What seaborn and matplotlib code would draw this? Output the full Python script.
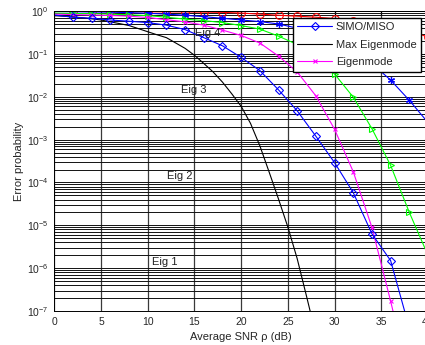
import numpy as np
import pandas as pd
import matplotlib
matplotlib.use("Agg")
import matplotlib.pyplot as plt
import seaborn as sns

# SNR grid (dB)
snr = [0, 2, 4, 6, 8, 10, 12, 14, 16, 18, 20, 22, 24, 26, 28, 30, 32, 34, 36, 38, 40]
snr_fine = list(range(0, 29))

# Error probability per scheme
simo_miso = [0.81, 0.72, 0.68, 0.62, 0.58, 0.54, 0.47, 0.37, 0.24, 0.155, 0.083,
             0.041, 0.0145, 0.0047, 1.2e-3, 2.9e-4, 5.8e-5, 6.3e-6, 1.5e-6, 4e-8]
max_eigen = [0.78, 0.76, 0.73, 0.70, 0.66, 0.62, 0.56, 0.51, 0.46, 0.39, 0.33,
             0.28, 0.24, 0.18, 0.135, 0.093, 0.060, 0.038, 0.022, 0.0117, 6.0e-3,
             2.4e-3, 7.2e-4, 1.74e-4, 4.1e-5, 9.1e-6, 1.66e-6, 2.2e-7, 2.8e-8]
eigenmode = [0.85, 0.83, 0.81, 0.79, 0.76, 0.71, 0.63, 0.56, 0.47, 0.36, 0.27,
             0.18, 0.089, 0.038, 0.0105, 1.74e-3, 1.78e-4, 8.9e-6, 1.7e-7, 2.5e-9]
eig_green = [0.90, 0.88, 0.87, 0.85, 0.82, 0.785, 0.72, 0.65, 0.60, 0.54, 0.46,
             0.38, 0.26, 0.166, 0.083, 0.034, 9.8e-3, 1.8e-3, 2.5e-4, 2.0e-5, 2.0e-6]
eig_star = [0.98, 0.965, 0.955, 0.945, 0.92, 0.89, 0.85, 0.80, 0.74, 0.68, 0.62,
            0.57, 0.50, 0.40, 0.30, 0.20, 0.117, 0.060, 0.0245, 8.3e-3, 2.5e-3]
eig_red = [0.99, 0.985, 0.98, 0.975, 0.97, 0.965, 0.96, 0.955, 0.945, 0.935, 0.90,
           0.85, 0.80, 0.76, 0.72, 0.67, 0.60, 0.52, 0.43, 0.34, 0.25]

legend_labels = ["SIMO/MISO", "Max Eigenmode", "Eigenmode"]
eig_labels = ["Eig 1", "Eig 2", "Eig 3", "Eig 4"]
eig_label_pos = [(10.5, 1.4e-6), (12.05, 1.4e-4), (13.6, 1.45e-2), (15.1, 0.31)]

sns.set_style("white")
plt.rcParams["font.family"] = ["Liberation Sans", "DejaVu Sans"]
plt.rcParams["mathtext.fontset"] = "custom"
plt.rcParams["mathtext.rm"] = "Liberation Sans"
plt.rcParams["mathtext.it"] = "Liberation Sans:italic"

W, H = 425, 345
fig = plt.figure(figsize=(W / 100, H / 100), dpi=100)
ax = fig.add_axes([54.3 / W, 1 - 311 / H, (428 - 54.3) / W, (311 - 11.1) / H])
ax.set_yscale("log")

lw = 0.8
ms = 4.5
common = dict(ax=ax, lw=lw, markevery=(1, 1), sort=False, estimator=None)

sns.lineplot(x=snr, y=eig_red, color="#ff0000", marker="o", ms=ms + 1,
             mfc="none", mec="#ff0000", mew=0.8, **common)
sns.lineplot(x=snr, y=eig_star, color="#0000ff", marker=(6, 2, 0), ms=ms + 0.5,
             mec="#0000ff", mew=0.9, **common)
sns.lineplot(x=snr, y=eig_green, color="#00ff00", marker=">", ms=ms + 0.5,
             mfc="none", mec="#00ff00", mew=0.8, **common)
sns.lineplot(x=snr[:len(eigenmode)], y=eigenmode, color="#ff00ff", marker="x",
             ms=ms - 1, mec="#ff00ff", mew=0.8, **common)
sns.lineplot(x=snr_fine, y=max_eigen, color="black", lw=lw, ax=ax, sort=False,
             estimator=None)
sns.lineplot(x=snr[:len(simo_miso)], y=simo_miso, color="#0000ff", marker="D",
             ms=ms, mfc="none", mec="#0000ff", mew=0.8, **common)

ax.set_xlim(0, 40)
ax.set_ylim(1e-7, 1)
ax.set_xticks(range(0, 45, 5))
ax.set_yticks([10.0 ** k for k in range(-7, 1)])

ax.grid(True, which="major", axis="x", color="#3a3a3a", lw=0.9, ls="-")
ax.grid(True, which="both", axis="y", color="#111111", lw=0.7, ls="-")
ax.set_axisbelow(True)

ax.tick_params(which="both", direction="in", top=True, right=True, labelsize=7.5,
               pad=4, color="black")
ax.tick_params(which="major", length=3)
ax.tick_params(which="minor", length=1.5)
for s in ax.spines.values():
    s.set_color("black")
    s.set_linewidth(0.7)

ax.set_xlabel("Average SNR ρ (dB)", fontsize=8, labelpad=4)
ax.set_ylabel("Error probability", fontsize=8, labelpad=2)

for txt, (xp, yp) in zip(eig_labels, eig_label_pos):
    ax.text(xp, yp, txt, fontsize=8, ha="left", va="center", color="#222222")

lines = ax.get_lines()
handles = [lines[5], lines[4], lines[3]]
leg = ax.legend(handles, legend_labels, loc="upper left",
                bbox_to_anchor=(292.7 / W, 1 - 17.5 / H),
                bbox_transform=fig.transFigure, borderaxespad=0, fontsize=8,
                frameon=True, fancybox=False, framealpha=1, edgecolor="black",
                handlelength=3.2, handletextpad=0.3, labelspacing=0.7,
                borderpad=0.38, numpoints=1)
leg.get_frame().set_linewidth(1.0)

fig.savefig("out.png", dpi=100, facecolor="white")
